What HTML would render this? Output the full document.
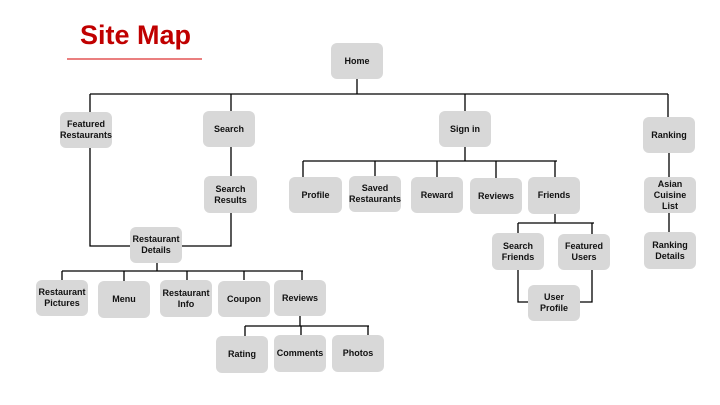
<!DOCTYPE html>
<html><head><meta charset="utf-8"><style>
body{margin:0;width:720px;height:405px;background:#fff;position:relative;overflow:hidden;font-family:"Liberation Sans",Arial,sans-serif}
.b{position:absolute;background:#d8d8d8;border-radius:6px;display:flex;align-items:center;justify-content:center;text-align:center;font-size:9px;font-weight:bold;line-height:11px;color:#111}
svg{position:absolute;left:0;top:0}
.t{position:absolute;left:80px;top:20px;font-size:27px;font-weight:bold;color:#c00000}
</style></head><body>
<svg width="720" height="405"><g stroke="#000" stroke-width="1.3" fill="none">
<line x1="67" y1="59" x2="202" y2="59" stroke="#d33"/>
<path d="M357 79V94M90 94H668M90 94V112M231 94V111M465 94V111M668 94V117"/>
<path d="M90 148V246H130M231 147V176M231 213V246H182"/>
<path d="M465 147V161M303 161H557M303 161V177M375 161V176M437 161V177M496 161V178M555 161V177"/>
<path d="M555 214V223M518 223H594M518 223V233M592 223V234M518 270V302H528M592 270V302H580"/>
<path d="M669 153V177M669 213V232"/>
<path d="M157 263V271M62 271H303M62 271V280M124 271V281M187 271V280M244 271V280M302 271V280"/>
<path d="M300 316V326M245 326H369M245 326V336M301 326V336M368 326V336"/>
</g></svg>
<div class="t">Site Map</div>
<div class="b" style="left:331px;top:43px;width:52px;height:36px">Home</div>
<div class="b" style="left:60px;top:112px;width:52px;height:36px">Featured<br>Restaurants</div>
<div class="b" style="left:203px;top:111px;width:52px;height:36px">Search</div>
<div class="b" style="left:439px;top:111px;width:52px;height:36px">Sign in</div>
<div class="b" style="left:643px;top:117px;width:52px;height:36px">Ranking</div>
<div class="b" style="left:289px;top:177px;width:53px;height:36px">Profile</div>
<div class="b" style="left:349px;top:176px;width:52px;height:36px">Saved<br>Restaurants</div>
<div class="b" style="left:411px;top:177px;width:52px;height:36px">Reward</div>
<div class="b" style="left:470px;top:178px;width:52px;height:36px">Reviews</div>
<div class="b" style="left:528px;top:177px;width:52px;height:37px">Friends</div>
<div class="b" style="left:492px;top:233px;width:52px;height:37px">Search<br>Friends</div>
<div class="b" style="left:558px;top:234px;width:52px;height:36px">Featured<br>Users</div>
<div class="b" style="left:528px;top:285px;width:52px;height:36px">User<br>Profile</div>
<div class="b" style="left:644px;top:177px;width:52px;height:36px">Asian<br>Cuisine<br>List</div>
<div class="b" style="left:644px;top:232px;width:52px;height:37px">Ranking<br>Details</div>
<div class="b" style="left:204px;top:176px;width:53px;height:37px">Search<br>Results</div>
<div class="b" style="left:130px;top:227px;width:52px;height:36px">Restaurant<br>Details</div>
<div class="b" style="left:36px;top:280px;width:52px;height:36px">Restaurant<br>Pictures</div>
<div class="b" style="left:98px;top:281px;width:52px;height:37px">Menu</div>
<div class="b" style="left:160px;top:280px;width:52px;height:37px">Restaurant<br>Info</div>
<div class="b" style="left:218px;top:281px;width:52px;height:36px">Coupon</div>
<div class="b" style="left:274px;top:280px;width:52px;height:36px">Reviews</div>
<div class="b" style="left:216px;top:336px;width:52px;height:37px">Rating</div>
<div class="b" style="left:274px;top:335px;width:52px;height:37px">Comments</div>
<div class="b" style="left:332px;top:335px;width:52px;height:37px">Photos</div>
</body></html>
